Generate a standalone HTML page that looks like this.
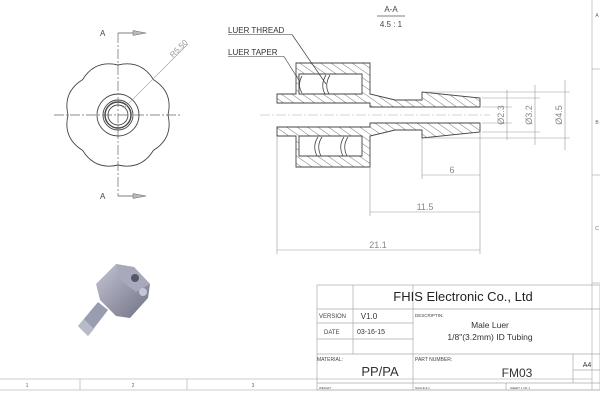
<!DOCTYPE html>
<html><head><meta charset="utf-8"><style>
html,body{margin:0;padding:0;background:#fff;}
svg{display:block;font-family:"Liberation Sans",sans-serif;}
</style></head><body>
<svg width="600" height="404" viewBox="0 0 600 404" xmlns="http://www.w3.org/2000/svg">
<defs>
<pattern id="h" patternUnits="userSpaceOnUse" width="6" height="6" patternTransform="rotate(-55)">
<line x1="0" y1="0" x2="0" y2="6" stroke="#555" stroke-width="0.8"/>
</pattern>
<linearGradient id="g" x1="0" y1="0" x2="1" y2="1">
<stop offset="0" stop-color="#c4c6d4"/><stop offset="1" stop-color="#6e7084"/>
</linearGradient>
</defs>
<rect width="600" height="404" fill="#fff"/>

<g stroke="#bbb" stroke-width="0.8" fill="none">
<line x1="0" y1="379" x2="592" y2="379"/>
<line x1="0" y1="390" x2="600" y2="390"/>
<line x1="80" y1="379" x2="80" y2="390"/>
<line x1="187" y1="379" x2="187" y2="390"/>
<line x1="592" y1="0" x2="592" y2="390"/>
<line x1="592" y1="69" x2="600" y2="69"/>
<line x1="592" y1="175" x2="600" y2="175"/>
<line x1="592" y1="283" x2="600" y2="283"/>
</g>
<g font-size="5" fill="#666" text-anchor="middle">
<text x="27" y="387">1</text><text x="133" y="387">2</text><text x="253" y="387">3</text>
<text x="597" y="17">A</text><text x="597" y="124">B</text><text x="597" y="230">C</text>
</g>

<g stroke="#444" fill="none" stroke-width="0.9">
<path d="M168,115 Q173.4,138 153.4,150.4 Q141,170.4 118,165 Q95,170.4 82.6,150.4 Q62.6,138 68,115 Q62.6,92 82.6,79.6 Q95,59.6 118,65 Q141,59.6 153.4,79.6 Q173.4,92 168,115 Z"/>
<circle cx="118" cy="115" r="21"/>
<circle cx="118" cy="115" r="15"/>
<circle cx="118" cy="115" r="13" stroke-width="1.4"/>
<circle cx="118" cy="115" r="10"/>
</g>
<g stroke="#666" stroke-width="0.7" stroke-dasharray="10,2,2,2" fill="none">
<line x1="54" y1="115" x2="180" y2="115"/>
<line x1="118" y1="33" x2="118" y2="196"/>
</g>
<g stroke="#555" stroke-width="0.8" fill="none">
<polyline points="118,33 136,33"/><polyline points="118,196 136,196"/>
</g>
<polygon points="133,30.5 146,33 133,35.5" fill="#bbb" stroke="#666" stroke-width="0.5"/>
<polygon points="133,193.5 146,196 133,198.5" fill="#bbb" stroke="#666" stroke-width="0.5"/>
<text x="100" y="36" font-size="8" fill="#444">A</text>
<text x="100" y="199" font-size="8" fill="#444">A</text>
<line x1="124" y1="108" x2="188" y2="44" stroke="#999" stroke-width="0.6"/>
<text x="0" y="0" font-size="8" fill="#999" transform="translate(173,58) rotate(-45)">R5.50</text>

<text x="391" y="12" font-size="8" fill="#444" text-anchor="middle">A-A</text>
<line x1="377" y1="16" x2="405" y2="16" stroke="#555" stroke-width="0.7"/>
<text x="391" y="27" font-size="8" fill="#444" text-anchor="middle">4.5 : 1</text>
<text x="228" y="33" font-size="8" fill="#333">LUER THREAD</text>
<line x1="228" y1="34.5" x2="292" y2="34.5" stroke="#333" stroke-width="0.6"/>
<text x="228" y="55" font-size="8" fill="#333">LUER TAPER</text>
<line x1="228" y1="56.5" x2="284" y2="56.5" stroke="#333" stroke-width="0.6"/>
<g stroke="#444" stroke-width="0.7" fill="none">
<polyline points="292,34.5 326,84"/>
<polyline points="284,56.5 300,82"/>
</g>
<line x1="260" y1="115" x2="490" y2="115" stroke="#aaa" stroke-width="0.6" stroke-dasharray="10,2,2,2"/>
<g fill="url(#h)" stroke="#444" stroke-width="0.9" fill-rule="evenodd">
<path d="M277,94 L296,94 L296,63 L370,63 L370,94 L395,100 L422,100 L422,92 L480,98 L480,107 L370,107 L370,103 L277,103 Z M299,74 L362,74 L362,94 L299,94 Z"/>
<path d="M277,136 L296,136 L296,167 L370,167 L370,136 L395,130 L422,130 L422,138 L480,132 L480,123 L370,123 L370,127 L277,127 Z M299,156 L362,156 L362,136 L299,136 Z"/>
</g>
<g stroke="#444" stroke-width="0.8" fill="none">
<path d="M302,76 Q297,85 302,93"/><path d="M326,75 Q320,85 325,94"/><path d="M330,75 Q324,85 329,94"/>
<path d="M318,137 Q312,146 317,156"/><path d="M322,137 Q316,146 321,156"/><path d="M344,137 Q338,146 343,156"/><path d="M348,137 Q342,146 347,156"/>
</g>
<g stroke="#999" stroke-width="0.6" fill="none">
<line x1="277" y1="136" x2="277" y2="254"/>
<line x1="370" y1="167" x2="370" y2="216"/>
<line x1="422" y1="138" x2="422" y2="179"/>
<line x1="480" y1="132" x2="480" y2="254"/>
<line x1="277" y1="250" x2="480" y2="250"/>
<line x1="370" y1="212" x2="480" y2="212"/>
<line x1="422" y1="175" x2="480" y2="175"/>
<line x1="482" y1="107" x2="512" y2="107"/><line x1="482" y1="123" x2="512" y2="123"/>
<line x1="507" y1="90" x2="507" y2="140"/>
<line x1="482" y1="98" x2="540" y2="98"/><line x1="482" y1="132" x2="540" y2="132"/>
<line x1="535" y1="85" x2="535" y2="145"/>
<line x1="425" y1="92" x2="570" y2="92"/><line x1="425" y1="138" x2="570" y2="138"/>
<line x1="565" y1="80" x2="565" y2="150"/>
</g>
<g font-size="9" fill="#888" text-anchor="middle">
<text x="452" y="173">6</text>
<text x="425" y="210">11.5</text>
<text x="378" y="248">21.1</text>
<text transform="translate(504,115) rotate(-90)">Ø2.3</text>
<text transform="translate(532,115) rotate(-90)">Ø3.2</text>
<text transform="translate(562,115) rotate(-90)">Ø4.5</text>
</g>

<polygon points="78,326 98,302 108,310 88,336" fill="#9a9cb0"/>
<polygon points="78,326 84,319 94,329 88,336" fill="#b8bac8"/>
<polygon points="96,284 116,264 134,267 150,284 148,298 130,318 116,316 100,300" fill="url(#g)"/>
<polygon points="116,264 134,267 150,284 136,292 120,280" fill="#a8aabb"/>
<circle cx="135" cy="278" r="4" fill="#555768"/>
<circle cx="143" cy="292" r="4" fill="#c4c6d2"/>

<g stroke="#aaa" stroke-width="0.7" fill="none">
<rect x="317" y="285" width="283" height="105"/>
<line x1="317" y1="309" x2="600" y2="309"/>
<line x1="317" y1="323" x2="413" y2="323"/>
<line x1="317" y1="339" x2="413" y2="339"/>
<line x1="317" y1="354" x2="600" y2="354"/>
<line x1="317" y1="383" x2="600" y2="383"/>
<line x1="353" y1="285" x2="353" y2="354"/>
<line x1="413" y1="285" x2="413" y2="390"/>
<line x1="506" y1="383" x2="506" y2="390"/>
<line x1="573" y1="354" x2="573" y2="383"/>
<line x1="573" y1="370" x2="600" y2="370"/>
</g>
<text x="463" y="301" font-size="13" fill="#222" text-anchor="middle">FHIS Electronic Co., Ltd</text>
<g font-size="6" fill="#444">
<text x="319" y="318">VERSION</text><text x="324" y="334">DATE</text>
<text x="415" y="317" font-size="4.5">DESCRIPTIN:</text>
<text x="317" y="361" font-size="5">MATERIAL:</text>
<text x="415" y="361" font-size="5">PART NUMBER:</text>
<text x="319" y="389" font-size="3">WEIGHT:</text>
<text x="415" y="389" font-size="3">SCALE:2:1</text>
<text x="510" y="389" font-size="3">SHEET 1 OF 1</text>
</g>
<g fill="#333" text-anchor="middle">
<text x="369" y="319" font-size="8">V1.0</text>
<text x="371" y="334" font-size="7">03-16-15</text>
<text x="490" y="328" font-size="8.5">Male Luer</text>
<text x="490" y="340" font-size="8.5">1/8"(3.2mm) ID Tubing</text>
<text x="380" y="376" font-size="13">PP/PA</text>
<text x="517" y="377" font-size="12">FM03</text>
<text x="587" y="367" font-size="7">A4</text>
</g>
</svg>
</body></html>
